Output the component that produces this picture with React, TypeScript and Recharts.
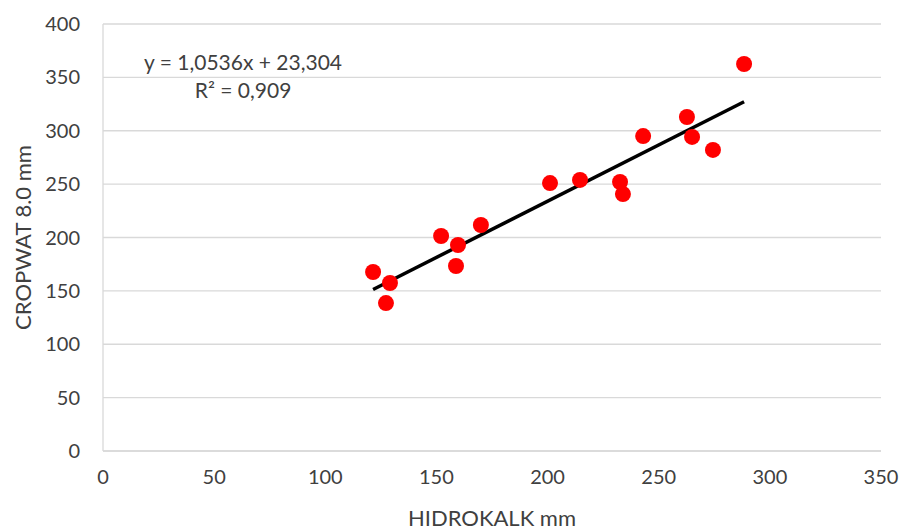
import { ScatterChart, Scatter, XAxis, YAxis, CartesianGrid, ReferenceLine, ReferenceDot } from "recharts";

document.body.style.margin = "0";

// HIDROKALK vs CROPWAT 8.0 (mm)
const hidrokalk = [121.5, 129.1, 127.3, 152.1, 159.7, 158.8, 170.0, 201.1, 214.6, 232.6, 233.9, 243.0, 262.7, 265.0, 274.4, 288.4];
const cropwat = [167.7, 157.4, 138.6, 201.4, 193.0, 173.3, 211.7, 251.0, 253.9, 252.0, 240.7, 295.0, 312.9, 294.2, 282.0, 362.5];

const xTicks = [0, 50, 100, 150, 200, 250, 300, 350];
const yTicks = [0, 50, 100, 150, 200, 250, 300, 350, 400];

// linear trend (from the chart's equation)
const slope = 1.0536;
const intercept = 23.304;
const equationText = "y = 1,0536x + 23,304";
const r2Text = "R\u00B2 = 0,909";

const points = hidrokalk.map((x, i) => ({ x, y: cropwat[i] }));
const minX = Math.min(...hidrokalk);
const maxX = Math.max(...hidrokalk);

const font = "Lato, 'Open Sans', sans-serif";
const textColor = "#404040";
const gridColor = "#d9d9d9";

const Dot = (props: any) => <circle cx={props.cx} cy={props.cy} r={8} fill="#FF0000" />;

const YTitle = (props: any) => {
    const { viewBox } = props;
    const cx = viewBox.x + 22;
    const cy = viewBox.y + viewBox.height / 2;
    return (
        <text x={cx} y={cy} transform={`rotate(-90 ${cx} ${cy})`} textAnchor="middle" dominantBaseline="central"
            fill={textColor} fontSize={22} fontFamily={font}>
            CROPWAT 8.0 mm
        </text>
    );
};

export default function App() {
    return (
        <div style={{ width: 903, height: 531, background: "#fff", fontFamily: font }}>
            <ScatterChart width={903} height={531} margin={{ top: 24, right: 22, bottom: 0, left: 0 }}>
                <CartesianGrid horizontal={true} vertical={false} stroke={gridColor} strokeWidth={1.3} />
                <XAxis
                    type="number"
                    dataKey="x"
                    domain={[0, 350]}
                    ticks={xTicks}
                    height={80}
                    tickSize={0}
                    tickMargin={19}
                    axisLine={{ stroke: gridColor, strokeWidth: 1.3 }}
                    tickLine={false}
                    tick={{ fill: textColor, fontSize: 20, fontFamily: font }}
                    label={{ value: "HIDROKALK mm", position: "insideBottom", offset: 5, fill: textColor, fontSize: 22, fontFamily: font }}
                />
                <YAxis
                    type="number"
                    dataKey="y"
                    domain={[0, 400]}
                    ticks={yTicks}
                    width={103}
                    tickSize={0}
                    tickMargin={23}
                    axisLine={{ stroke: gridColor, strokeWidth: 1.3 }}
                    tickLine={false}
                    tick={{ fill: textColor, fontSize: 20, fontFamily: font }}
                    label={{ content: YTitle }}
                />
                <Scatter data={points} shape={Dot} isAnimationActive={false} />
                <ReferenceLine
                    segment={[
                        { x: minX, y: slope * minX + intercept },
                        { x: maxX, y: slope * maxX + intercept },
                    ]}
                    stroke="#000"
                    strokeWidth={3.5}
                />
                <ReferenceDot x={63} y={364} r={0} fill="none" stroke="none"
                    label={{ value: equationText, position: "center", fill: textColor, fontSize: 21, fontFamily: font }} />
                <ReferenceDot x={63} y={338} r={0} fill="none" stroke="none"
                    label={{ value: r2Text, position: "center", fill: textColor, fontSize: 21, fontFamily: font }} />
            </ScatterChart>
        </div>
    );
}
